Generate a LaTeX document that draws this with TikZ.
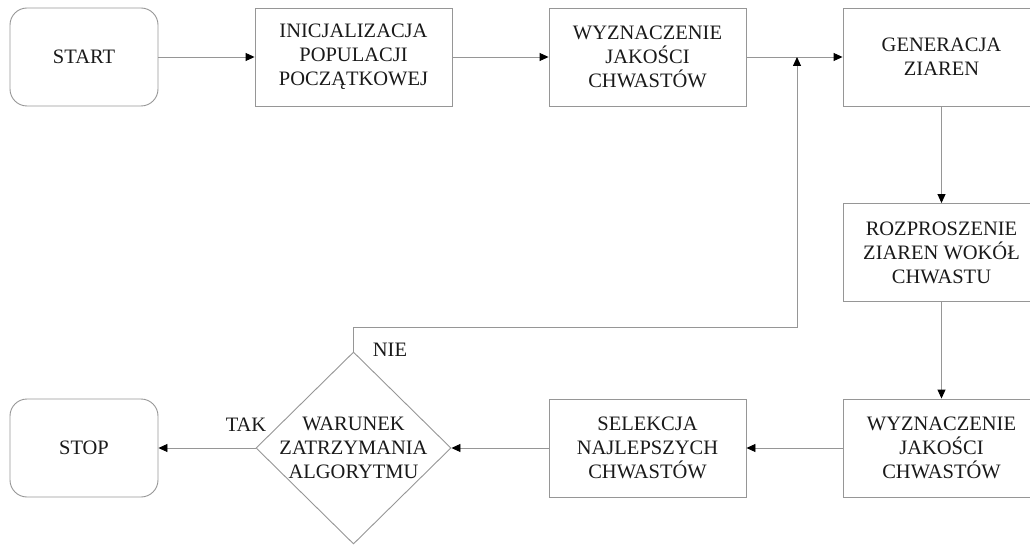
\documentclass[tikz,border=0pt]{standalone}
\usepackage{fontspec}
\setmainfont{Liberation Serif}
\usetikzlibrary{arrows.meta, shapes.geometric}
\definecolor{linegray}{RGB}{150,150,150}
\definecolor{textblack}{RGB}{25,25,25}
\tikzset{
  proc/.style  = {draw=linegray, line width=0.9pt, minimum width=197pt,
                  minimum height=98pt, align=center, inner sep=2pt, text=textblack},
  term/.style  = {proc, rounded corners=17pt, minimum width=148pt},
  cond/.style  = {diamond, draw=linegray, line width=0.9pt, minimum width=195pt,
                  minimum height=192pt, inner sep=-6pt, align=center, text=textblack},
  arrow/.style = {draw=linegray, line width=0.9pt,
                  -{Triangle[length=9pt, width=8pt, color=black]}},
  lbl/.style   = {text=textblack, inner sep=0pt},
}
\begin{document}
\begin{tikzpicture}[x=1pt, y=-1pt, every node/.style={font=\fontsize{20.5}{24}\selectfont}]
  \useasboundingbox (0,0) rectangle (1030,545);
  % top row
  \node[term] (start) at (84,57) {START};
  \node[proc] (init)  at (353.5,57) {INICJALIZACJA\\POPULACJI\\POCZĄTKOWEJ};
  \node[proc] (qual1) at (647.5,57) {WYZNACZENIE\\JAKOŚCI\\CHWASTÓW};
  \node[proc] (gen)   at (941.5,57) {GENERACJA\\ZIAREN};
  % right column and bottom row
  \node[proc] (scatter) at (941.5,252.5) {ROZPROSZENIE\\ZIAREN WOKÓŁ\\CHWASTU};
  \node[proc] (qual2) at (941.5,448) {WYZNACZENIE\\JAKOŚCI\\CHWASTÓW};
  \node[proc] (sel)   at (647.5,448) {SELEKCJA\\NAJLEPSZYCH\\CHWASTÓW};
  \node[cond] (cond)  at (353.5,448) {WARUNEK\\ZATRZYMANIA\\ALGORYTMU};
  \node[term] (stop)  at (84,448) {STOP};
  % loop back
  \coordinate (loopA) at (353.5,327);
  \coordinate (loopB) at (797,327);
  \coordinate (join)  at (797,57);
  \draw[arrow] (start) -- (init);
  \draw[arrow] (init) -- (qual1);
  \draw[arrow] (qual1) -- (gen);
  \draw[arrow] (gen) -- (scatter);
  \draw[arrow] (scatter) -- (qual2);
  \draw[arrow] (qual2) -- (sel);
  \draw[arrow] (sel) -- (cond);
  \draw[arrow] (cond) -- (stop);
  \draw[arrow] (cond.north) -- (loopA) -- (loopB) -- (join);
  \node[lbl] (tak) at (246,425) {TAK};
  \node[lbl] (nie) at (390,350) {NIE};
\end{tikzpicture}
\end{document}
